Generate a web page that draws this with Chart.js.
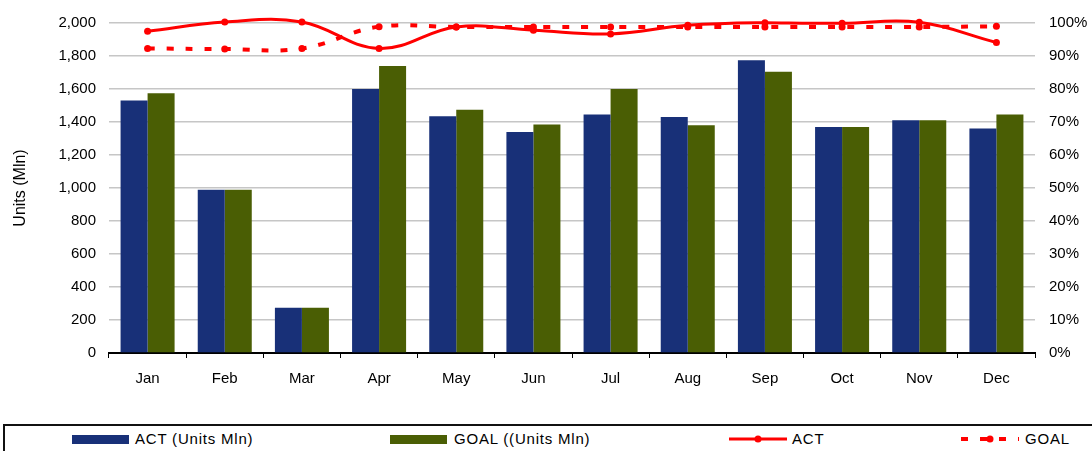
<!DOCTYPE html>
<html>
<head>
<meta charset="utf-8">
<script src="https://cdn.jsdelivr.net/npm/chart.js@4.4.1/dist/chart.umd.min.js"></script>
<style>
    body { margin: 0; background: #fff; font-family: "Liberation Sans", Arial, sans-serif; }
    #wrap { position: relative; width: 1092px; height: 451px; overflow: hidden; }
    #chart { position: absolute; left: 0; top: 0; }
    #legend { position: absolute; left: 3px; top: 424px; width: 1120px; height: 60px; border: 2px solid #111; }
    .lg-swatch { position: absolute; }
    .lg-text { position: absolute; font-size: 15px; letter-spacing: 0.8px; color: #000; line-height: 18px; top: 430px; white-space: nowrap; }
</style>
</head>
<body>
<div id="wrap">
    <canvas id="chart" width="1092" height="400"></canvas>
    <div id="legend"></div>
</div>
<script>
// 月份
const months = ['Jan', 'Feb', 'Mar', 'Apr', 'May', 'Jun', 'Jul', 'Aug', 'Sep', 'Oct', 'Nov', 'Dec'];

// 單位 (Mln)
const actUnits  = [1530, 990, 275, 1600, 1435, 1340, 1445, 1430, 1775, 1370, 1410, 1360];
const goalUnits = [1575, 990, 275, 1740, 1475, 1385, 1600, 1380, 1705, 1370, 1410, 1445];

// 百分比 (右軸)
const actPct  = [97.5, 100.3, 100.3, 92.3, 98.8, 97.8, 96.7, 99.3, 100.1, 99.9, 100.2, 94.1];
const goalPct = [92.3, 92.1, 92.3, 98.9, 98.8, 98.8, 98.8, 98.8, 98.8, 98.8, 98.8, 99.0];

// 軸刻度
const unitTicks = [0, 200, 400, 600, 800, 1000, 1200, 1400, 1600, 1800, 2000];
const pctTicks  = [0, 10, 20, 30, 40, 50, 60, 70, 80, 90, 100];

const BLUE = '#183078';
const OLIVE = '#4a5e04';
const RED = '#ff0000';
const FONT = '"Liberation Sans", Arial, sans-serif';

const chart = new Chart(document.getElementById('chart'), {
    type: 'bar',
    data: {
        labels: months,
        datasets: [
            {
                label: 'ACT',
                type: 'line',
                data: actPct,
                yAxisID: 'y1',
                borderColor: RED,
                backgroundColor: RED,
                borderWidth: 3,
                pointRadius: 3.5,
                pointBorderWidth: 0,
                tension: 0.4,
                clip: false,
                order: 0
            },
            {
                label: 'GOAL',
                type: 'line',
                data: goalPct,
                yAxisID: 'y1',
                borderColor: RED,
                backgroundColor: RED,
                borderWidth: 4,
                borderDash: [7, 12],
                pointRadius: 3.5,
                pointBorderWidth: 0,
                tension: 0.4,
                clip: false,
                order: 0
            },
            {
                label: 'ACT (Units Mln)',
                data: actUnits,
                yAxisID: 'y',
                backgroundColor: BLUE,
                categoryPercentage: 0.7,
                barPercentage: 1,
                order: 1
            },
            {
                label: 'GOAL ((Units Mln)',
                data: goalUnits,
                yAxisID: 'y',
                backgroundColor: OLIVE,
                categoryPercentage: 0.7,
                barPercentage: 1,
                order: 1
            }
        ]
    },
    options: {
        responsive: false,
        animation: false,
        devicePixelRatio: 1,
        layout: { padding: { top: 21, left: 0, right: 0, bottom: 0 } },
        plugins: {
            legend: { display: false },
            tooltip: { enabled: false }
        },
        scales: {
            x: {
                offset: true,
                grid: { offset: true, drawOnChartArea: false, color: '#000', tickLength: 5, lineWidth: 1 },
                border: { color: '#000', width: 2 },
                ticks: { color: '#000', padding: 12, font: { family: FONT, size: 15 } },
                afterFit: s => { s.height = 47; }
            },
            y: {
                position: 'left',
                min: 0,
                max: 2000,
                afterBuildTicks: s => { s.ticks = unitTicks.map(v => ({ value: v })); },
                ticks: {
                    color: '#000',
                    padding: 13,
                    font: { family: FONT, size: 15 },
                    callback: v => v.toLocaleString('en-US')
                },
                grid: {
                    drawTicks: false,
                    lineWidth: 1.5,
                    color: c => c.tick && c.tick.value === 0 ? 'rgba(0,0,0,0)' : '#c6c6c6'
                },
                border: { display: false },
                title: {
                    display: true,
                    text: 'Units (Mln)',
                    color: '#000',
                    font: { family: FONT, size: 16 },
                    padding: { top: 11, bottom: 0 }
                },
                afterFit: s => { s.width = 109; }
            },
            y1: {
                position: 'right',
                min: 0,
                max: 100,
                afterBuildTicks: s => { s.ticks = pctTicks.map(v => ({ value: v })); },
                ticks: {
                    color: '#000',
                    padding: 14,
                    font: { family: FONT, size: 15 },
                    callback: v => v + '%'
                },
                grid: { drawOnChartArea: false, drawTicks: false },
                border: { display: false },
                afterFit: s => { s.width = 57; }
            }
        }
    }
});

// 圖例 (HTML)
const legendOrder = [2, 3, 0, 1];
const swatchX = [72, 390, 729, 961];
const textX = [135, 454, 792, 1025];
const wrap = document.getElementById('wrap');

legendOrder.forEach((dsIndex, i) => {
    const ds = chart.data.datasets[dsIndex];
    let sw;
    if (ds.type === 'line') {
        sw = document.createElementNS('http://www.w3.org/2000/svg', 'svg');
        sw.setAttribute('width', '58');
        sw.setAttribute('height', '12');
        const dash = ds.borderDash ? `stroke-dasharray="${ds.borderDash.join(' ')}"` : '';
        sw.innerHTML = `<line x1="0" y1="6" x2="58" y2="6" stroke="${ds.borderColor}" stroke-width="${ds.borderWidth}" ${dash}/>` +
            `<circle cx="29" cy="6" r="${ds.pointRadius}" fill="${ds.borderColor}"/>`;
        sw.style.left = swatchX[i] + 'px';
        sw.style.top = '433px';
    } else {
        sw = document.createElement('div');
        sw.style.left = swatchX[i] + 'px';
        sw.style.top = '435px';
        sw.style.width = '57px';
        sw.style.height = '9px';
        sw.style.background = ds.backgroundColor;
    }
    sw.classList.add('lg-swatch');
    wrap.appendChild(sw);

    const t = document.createElement('div');
    t.className = 'lg-text';
    t.style.left = textX[i] + 'px';
    t.textContent = ds.label;
    wrap.appendChild(t);
});
</script>
</body>
</html>
